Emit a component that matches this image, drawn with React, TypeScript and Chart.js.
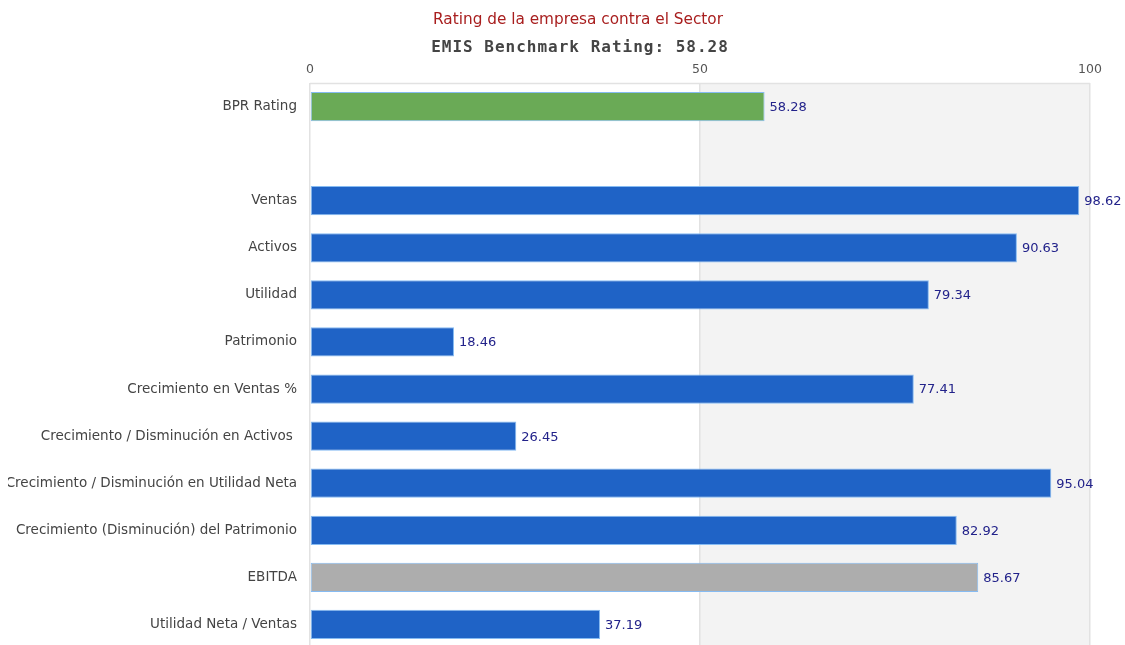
import React, { useEffect, useRef } from "react";
import { Chart, registerables } from "chart.js";

Chart.register(...registerables);

const categories: string[] = [
  "BPR Rating",
  "",
  "Ventas",
  "Activos",
  "Utilidad",
  "Patrimonio",
  "Crecimiento en Ventas %",
  "Crecimiento / Disminución en Activos ",
  "Crecimiento / Disminución en Utilidad Neta",
  "Crecimiento (Disminución) del Patrimonio",
  "EBITDA",
  "Utilidad Neta / Ventas",
];

const values: (number | null)[] = [
  58.28, null, 98.62, 90.63, 79.34, 18.46, 77.41, 26.45, 95.04, 82.92, 85.67, 37.19,
];

const barColors: string[] = [
  "#6aaa56", "#1f63c6", "#1f63c6", "#1f63c6", "#1f63c6", "#1f63c6",
  "#1f63c6", "#1f63c6", "#1f63c6", "#1f63c6", "#adadad", "#1f63c6",
];

const xTicks: number[] = [0, 50, 100];

const title1 = "Rating de la empresa contra el Sector";
const title2 = "EMIS Benchmark Rating: 58.28";

export default function App() {
  const ref = useRef<HTMLCanvasElement | null>(null);

  useEffect(() => {
    document.documentElement.style.overflow = "hidden";
    document.body.style.overflow = "hidden";
    const canvas = ref.current;
    if (!canvas) return;

    const bgPlugin = {
      id: "bgBand",
      beforeDraw(chart: any) {
        const { ctx, chartArea } = chart;
        const xs = chart.scales.x;
        const x50 = xs.getPixelForValue(50);
        const x100 = xs.getPixelForValue(100);
        ctx.save();
        ctx.fillStyle = "#f3f3f3";
        ctx.fillRect(x50, chartArea.top, x100 - x50, chartArea.bottom - chartArea.top);
        ctx.strokeStyle = "#e2e2e2";
        ctx.lineWidth = 1.5;
        ctx.beginPath();
        ctx.moveTo(chartArea.left, chartArea.top + 0.5);
        ctx.lineTo(chartArea.right, chartArea.top + 0.5);
        ctx.stroke();
        ctx.restore();
      },
    };

    const titlePlugin = {
      id: "titles",
      afterDraw(chart: any) {
        const { ctx } = chart;
        ctx.save();
        ctx.textAlign = "center";
        ctx.textBaseline = "middle";
        ctx.fillStyle = "#a81e1e";
        ctx.font = "15.3px 'DejaVu Sans'";
        ctx.fillText(title1, 570, 12);
        ctx.fillStyle = "#444444";
        ctx.font = "bold 16px 'DejaVu Sans Mono'";
        try { (ctx as any).letterSpacing = "1px"; } catch (e) {}
        ctx.fillText(title2, 572, 40);
        try { (ctx as any).letterSpacing = "0px"; } catch (e) {}
        ctx.restore();
      },
    };

    const valuePlugin = {
      id: "values",
      afterDatasetsDraw(chart: any) {
        const { ctx } = chart;
        const meta = chart.getDatasetMeta(0);
        ctx.save();
        ctx.fillStyle = "#22228a";
        ctx.font = "13px 'DejaVu Sans'";
        ctx.textAlign = "left";
        ctx.textBaseline = "middle";
        meta.data.forEach((el: any, i: number) => {
          const v = values[i];
          if (v === null || v === undefined) return;
          ctx.fillText(v.toFixed(2), el.x + 5, el.y + 1);
        });
        ctx.restore();
      },
    };

    const chart = new Chart(canvas, {
      type: "bar",
      data: {
        labels: categories,
        datasets: [
          {
            data: values as any,
            backgroundColor: barColors,
            borderColor: "#86bbf2",
            borderWidth: 1,
            borderSkipped: false,
            barPercentage: 0.62,
            categoryPercentage: 1,
          },
        ],
      },
      options: {
        indexAxis: "y",
        animation: false,
        responsive: false,
        maintainAspectRatio: false,
        layout: { padding: { top: 50, right: 35, bottom: 0, left: 0 } },
        plugins: {
          legend: { display: false },
          tooltip: { enabled: false },
          title: { display: false },
        },
        scales: {
          x: {
            position: "top",
            min: 0,
            max: 100,
            afterBuildTicks(scale: any) {
              scale.ticks = xTicks.map((v) => ({ value: v }));
            },
            afterFit(scale: any) {
              scale.height = 25;
            },
            grid: {
              color: "#e2e2e2",
              lineWidth: 1.5,
              drawTicks: false,
            },
            border: { display: false },
            ticks: {
              color: "#555555",
              font: { family: "'DejaVu Sans'", size: 12.5 },
              padding: 6,
            },
          },
          y: {
            afterFit(scale: any) {
              scale.width = 302;
              scale.paddingTop = 0;
              scale.paddingBottom = 0;
            },
            grid: { display: false, drawTicks: false },
            border: { display: false },
            ticks: {
              color: "#444444",
              font: { family: "'DejaVu Sans'", size: 13.5 },
              padding: 13,
              autoSkip: false,
            },
          },
        },
      },
      plugins: [bgPlugin, valuePlugin, titlePlugin],
    });

    return () => chart.destroy();
  }, []);

  return (
    <div style={{ position: "fixed", top: 8, left: 8, width: 1117, height: 640 }}>
      <canvas ref={ref} width={1117} height={640} style={{ display: "block" }} />
    </div>
  );
}
